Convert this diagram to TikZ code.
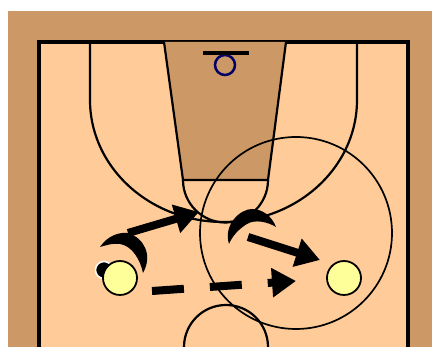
\documentclass[tikz,border=0pt]{standalone}
\usepackage{xcolor}
\usepackage{tikz}
\usetikzlibrary{arrows.meta,positioning,calc}
\definecolor{wood}{HTML}{CC9966}
\definecolor{floorc}{HTML}{FFCC99}
\definecolor{shirt}{HTML}{FFFF99}
\definecolor{rim}{HTML}{000066}

\begin{document}
\begin{tikzpicture}[x=1pt,y=1pt,
  player/.style={circle,draw,fill=shirt,line width=1.8pt,minimum size=34pt,inner sep=0pt},
  ball/.style={circle,draw=white,fill=black,line width=1.5pt,minimum size=17pt,inner sep=0pt},
  hoop/.style={circle,draw=rim,line width=2.5pt,minimum size=20pt,inner sep=0pt},
  mark line/.style={line width=2.2pt,draw=black},
  move/.style={line width=8pt,-{Triangle[length=24pt,width=28pt]}}]
\useasboundingbox (0,0) rectangle (432,347);
\clip (0,0) rectangle (432,347);
\fill[wood] (8,0) rectangle (432,336);
\draw[line width=3.5pt,fill=floorc] (39,-5) rectangle (408,305);
% lane and arcs
\draw[mark line,fill=wood] (164,305) -- (183,167) -- (268,167) -- (286,305);
\draw[mark line] (183,167) arc[start angle=180,end angle=360,radius=42.5];
\draw[mark line] (90,305) -- (90,247) arc[start angle=180,end angle=360,x radius=133.5,y radius=122] -- (357,305);
\draw[mark line] (226,0) circle[radius=42];
\draw[line width=1.7pt] (296,114) circle[radius=96];
% basket
\node[hoop] (rim) at (225,282) {};
\coordinate (boardl) at (203,294);
\coordinate (boardr) at (249,294);
\draw[line width=3.3pt] (boardl) -- (boardr);
% players
\node[ball] (bl) at (104,77) {};
\node[player] (p1) at (120,69) {};
\node[player] (p2) at (344,69) {};
% defenders
\fill (100,100) .. controls (108,112) and (120,115) .. (128,114) .. controls (144,109) and (153,92) .. (143,74)
  .. controls (140,88) and (132,101) .. (120,103) .. controls (113,104) and (107,102) .. (100,100);
\fill (229,103) .. controls (223,122) and (240,138) .. (252,138) .. controls (262,138) and (272,131) .. (276,120)
  .. controls (268,125) and (255,128) .. (247,123) .. controls (239,118) and (233,112) .. (229,103);
% moves
\coordinate (a1) at (128,114);
\coordinate (b1) at (199,135);
\coordinate (a2) at (248,110);
\coordinate (b2) at (320,87);
\coordinate (a3) at (152,56);
\coordinate (b3) at (296,66);
\draw[move] (a1) -- (b1);
\draw[move] (a2) -- (b2);
\draw[move,dash pattern=on 32pt off 26pt] (a3) -- (b3);
\end{tikzpicture}
\end{document}
